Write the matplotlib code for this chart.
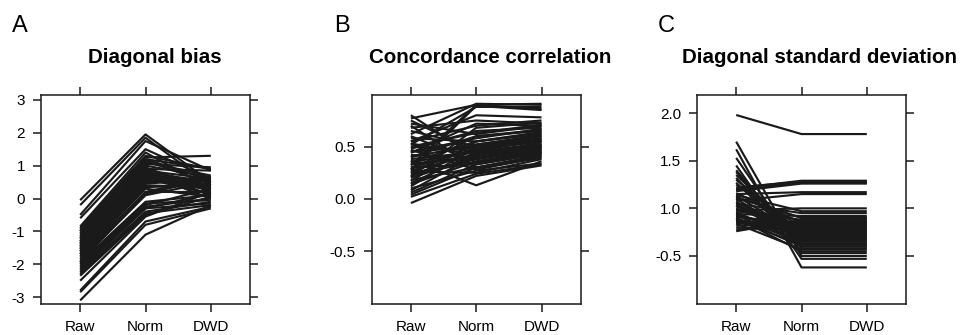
import matplotlib
matplotlib.use("Agg")
import matplotlib.pyplot as plt

plt.rcParams['font.family'] = ['Liberation Sans', 'DejaVu Sans']

categories = ["Raw", "Norm", "DWD"]

# Panel A: Diagonal bias
raw_a = [-0.05, -0.2, -0.5, -0.6, -0.85, -0.9, -1.0, -1.05, -1.1, -1.15, -1.2, -1.25, -1.3, -1.3,
         -1.35, -1.4, -1.4, -1.45, -1.5, -1.5, -1.55, -1.6, -1.6, -1.65, -1.7, -1.75, -1.8, -1.85,
         -1.9, -1.95, -2.0, -2.05, -2.1, -2.2, -2.25, -2.3, -2.35, -2.5, -2.8, -2.85, -3.1, -1.0,
         -1.2, -1.45, -1.7, -1.95, -2.15, -0.95, -1.35, -1.55]
norm_a = [1.95, 1.85, 1.75, 1.5, 1.4, 1.3, 1.25, 1.2, 1.15, 1.05, 1.0, 0.95, 0.9, 0.85,
          0.85, 0.8, 0.8, 0.75, 0.7, 0.7, 0.65, 0.6, 0.55, 0.45, 0.4, 0.3, 0.2, 0.15,
          0.1, -0.1, -0.15, -0.2, -0.25, -0.3, -0.4, -0.45, -0.5, -0.55, -0.7, -0.8, -1.1, 1.1,
          0.9, 0.65, 0.35, 0.2, -0.3, 1.2, 0.75, 0.5]
dwd_a = [0.5, 0.4, 0.85, 0.6, 0.3, 0.9, 1.3, 0.55, 0.45, 0.95, 0.65, 0.2, 0.35, 0.6,
         0.1, 0.5, 0.25, 0.0, 0.4, 0.55, 0.3, 0.15, 0.45, 0.6, 0.35, 0.05, 0.2, 0.6,
         0.5, 0.1, -0.05, 0.3, 0.0, 0.15, -0.1, -0.2, 0.05, 0.2, -0.25, -0.3, -0.2, 0.7,
         0.85, 0.25, 0.4, 0.65, -0.15, 0.9, 0.1, 0.55]

# Panel B: Concordance correlation
raw_b = [0.80, 0.77, 0.75, 0.72, 0.70, 0.68, 0.65, 0.62, 0.60, 0.58, 0.55, 0.53, 0.52, 0.50,
         0.48, 0.47, 0.45, 0.44, 0.42, 0.40, 0.38, 0.37, 0.35, 0.34, 0.32, 0.30, 0.30, 0.28,
         0.27, 0.26, 0.25, 0.24, 0.22, 0.21, 0.20, 0.18, 0.17, 0.15, 0.14, 0.12, 0.10, 0.08,
         0.06, 0.04, 0.02, -0.04, 0.55, 0.45, 0.35, 0.28, 0.22, 0.50, 0.40, 0.33, 0.25]
norm_b = [0.40, 0.90, 0.45, 0.62, 0.30, 0.75, 0.50, 0.91, 0.35, 0.55, 0.70, 0.42, 0.88, 0.46,
          0.65, 0.28, 0.50, 0.72, 0.40, 0.60, 0.45, 0.13, 0.55, 0.38, 0.90, 0.48, 0.33, 0.60,
          0.43, 0.25, 0.52, 0.35, 0.47, 0.68, 0.40, 0.30, 0.55, 0.44, 0.36, 0.50, 0.27, 0.42,
          0.33, 0.30, 0.24, 0.22, 0.80, 0.58, 0.46, 0.89, 0.38, 0.63, 0.52, 0.41, 0.35]
dwd_b = [0.55, 0.91, 0.50, 0.70, 0.42, 0.72, 0.60, 0.90, 0.45, 0.62, 0.75, 0.52, 0.88, 0.58,
         0.68, 0.40, 0.55, 0.70, 0.48, 0.65, 0.53, 0.36, 0.63, 0.47, 0.86, 0.57, 0.44, 0.66,
         0.50, 0.38, 0.60, 0.45, 0.55, 0.73, 0.49, 0.41, 0.64, 0.52, 0.46, 0.58, 0.34, 0.51,
         0.43, 0.39, 0.33, 0.32, 0.78, 0.67, 0.56, 0.85, 0.48, 0.71, 0.61, 0.50, 0.44]

# Panel C: Diagonal standard deviation
raw_c = [1.98, 1.70, 1.62, 1.53, 1.45, 1.40, 1.38, 1.35, 1.32, 1.30, 1.27, 1.25, 1.22, 1.21,
         1.20, 1.18, 1.16, 1.15, 1.13, 1.12, 1.10, 1.08, 1.06, 1.05, 1.03, 1.02, 1.00, 0.98,
         0.97, 0.95, 0.94, 0.93, 0.92, 0.91, 0.90, 0.89, 0.88, 0.87, 0.86, 0.85, 0.84, 0.82,
         0.80, 0.78, 0.76, 1.19, 1.11, 1.04, 0.96, 0.90, 1.14, 1.07, 0.99, 0.93, 0.88]
norm_c = [1.78, 0.50, 0.38, 0.53, 0.47, 0.60, 0.65, 0.70, 0.58, 0.75, 0.62, 0.80, 1.28, 1.29,
          1.27, 1.26, 0.85, 1.17, 0.72, 0.90, 0.68, 1.15, 0.78, 0.95, 0.66, 0.82, 0.74, 1.00,
          0.88, 0.70, 0.92, 0.63, 0.77, 0.84, 0.60, 0.72, 0.67, 0.80, 0.86, 0.75, 0.57, 0.83,
          0.79, 0.80, 0.88, 1.28, 0.90, 0.73, 0.65, 0.55, 0.97, 0.69, 0.81, 0.76, 0.62]
dwd_c = [1.78, 0.50, 0.38, 0.53, 0.47, 0.60, 0.65, 0.70, 0.58, 0.75, 0.62, 0.80, 1.28, 1.29,
         1.27, 1.26, 0.85, 1.17, 0.72, 0.90, 0.68, 1.15, 0.78, 0.95, 0.66, 0.82, 0.74, 1.00,
         0.88, 0.70, 0.92, 0.63, 0.77, 0.84, 0.60, 0.72, 0.67, 0.80, 0.86, 0.75, 0.57, 0.83,
         0.79, 0.80, 0.88, 1.28, 0.90, 0.73, 0.65, 0.55, 0.97, 0.69, 0.81, 0.76, 0.62]

titles = ["Diagonal bias", "Concordance correlation", "Diagonal standard deviation"]
letters = ["A", "B", "C"]
yticks_a = [-3, -2, -1, 0, 1, 2, 3]
yticklabels_a = ["-3", "-2", "-1", "0", "1", "2", "3"]
yticks_b = [-0.5, 0.0, 0.5]
yticklabels_b = ["-0.5", "0.0", "0.5"]
yticks_c = [0.5, 1.0, 1.5, 2.0]
yticklabels_c = ["-0.5", "1.0", "1.5", "2.0"]

W, H = 960, 335
fig = plt.figure(figsize=(9.6, 3.35), dpi=100)

panels = [
    dict(left=41, data=(raw_a, norm_a, dwd_a), ylim=(-3.21, 3.15), yt=yticks_a, ytl=yticklabels_a,
         tx=154.6, lx=11.5),
    dict(left=371.7, data=(raw_b, norm_b, dwd_b), ylim=(-1.006, 0.994), yt=yticks_b, ytl=yticklabels_b,
         tx=490.5, lx=334),
    dict(left=697, data=(raw_c, norm_c, dwd_c), ylim=(-0.004, 2.19), yt=yticks_c, ytl=yticklabels_c,
         tx=820, lx=658),
]

col = "#1a1a1a"
for i, p in enumerate(panels):
    ax = fig.add_axes([p['left'] / W, (H - 304) / H, 209 / W, 209 / H])
    r, n, d = p['data']
    for k in range(len(r)):
        ax.plot([1, 2, 3], [r[k], n[k], d[k]], color=col, lw=1.55, solid_capstyle='butt')
    ax.set_xlim(0.4, 3.6)
    ax.set_ylim(*p['ylim'])
    ax.set_xticks([1, 2, 3])
    ax.set_xticklabels(categories, fontsize=11)
    ax.set_yticks(p['yt'])
    ax.set_yticklabels(p['ytl'], fontsize=11)
    ax.tick_params(axis='both', direction='out', length=6, width=1.1, color=col, pad=5.5,
                   top=True, right=True, labeltop=False, labelright=False)
    for s in ax.spines.values():
        s.set_linewidth(1.1)
        s.set_color(col)
    fig.text(p['tx'] / W, (H - 62.7) / H, titles[i], fontsize=14.8, fontweight='bold',
             ha='center', va='baseline')
    fig.text(p['lx'] / W, (H - 32) / H, letters[i], fontsize=17, ha='left', va='baseline')

fig.savefig("out.png", dpi=100)
